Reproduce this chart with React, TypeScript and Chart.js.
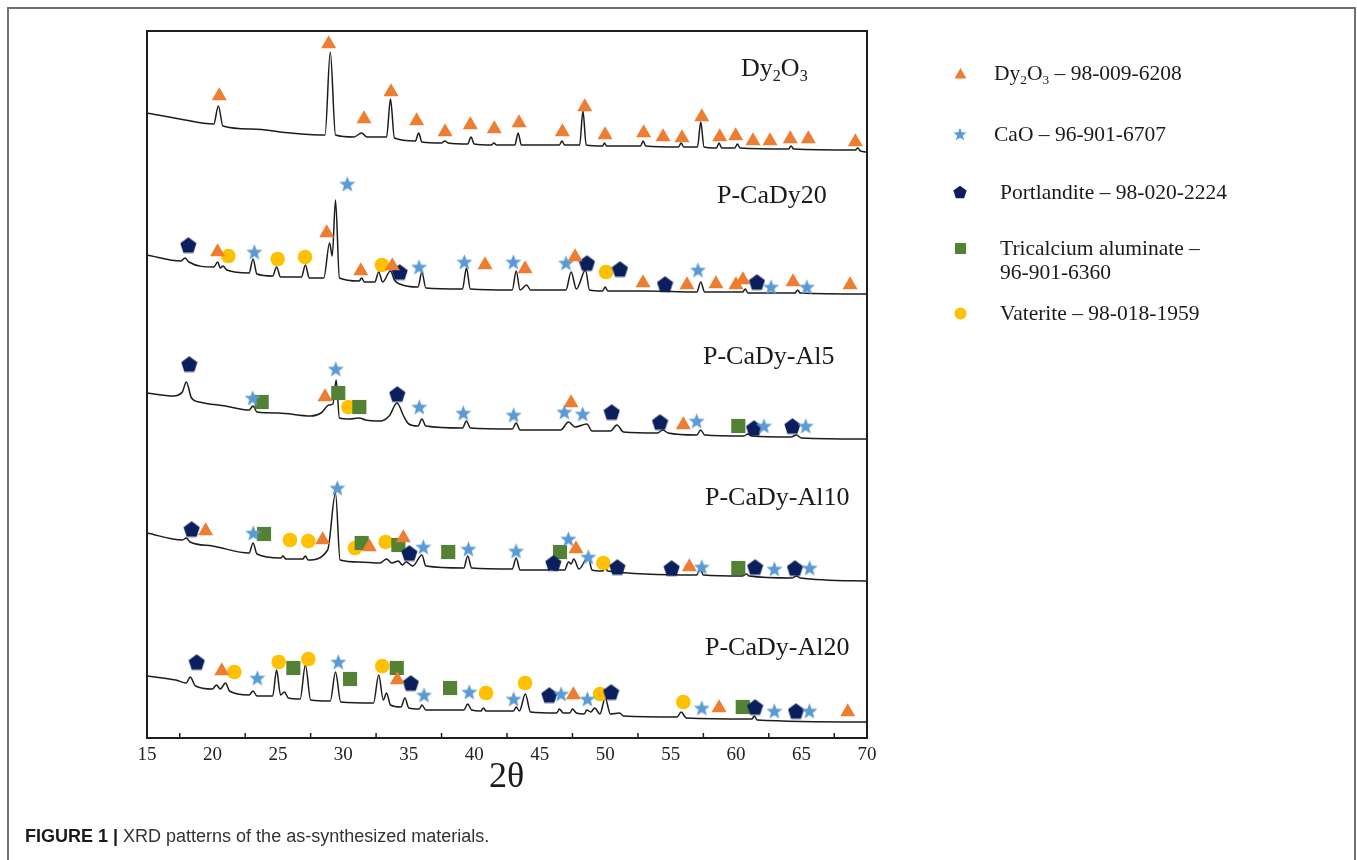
import React, { useEffect, useRef } from "react";
import { Chart, registerables } from "chart.js";

Chart.register(...registerables);

type Pt = [number, number];

// ---------- axis ----------
const X_MIN = 15;
const X_MAX = 70;
const X_TICKS = [15, 20, 25, 30, 35, 40, 45, 50, 55, 60, 65, 70];
const X_MINOR_TICKS = [17.5, 22.5, 27.5, 32.5, 37.5, 42.5, 47.5, 52.5, 57.5, 62.5, 67.5];
const Y_MAX = 707; // intensity (a.u., stacked patterns)

// ---------- XRD patterns (2θ, stacked intensity a.u.) ----------
const DY2O3: Pt[] = [
  [15, 625], [17.5, 619], [20.1, 614], [20.45, 632], [20.8, 612], [23, 609], [26, 605],
  [28.6, 603], [29.0, 686], [29.4, 603], [30.8, 601], [31.4, 605], [31.8, 601], [33.3, 601],
  [33.6, 639], [33.9, 600], [35.5, 597], [35.75, 605], [36.0, 596], [37.5, 595], [37.75, 597],
  [38.0, 595], [39.5, 594], [39.75, 601], [40.0, 594], [41.3, 593], [41.5, 595], [41.7, 593],
  [43.1, 593], [43.35, 605], [43.6, 593], [46.5, 593], [46.7, 597], [46.9, 593], [48.05, 593],
  [48.3, 627], [48.55, 593], [49.8, 592], [49.95, 595], [50.1, 592], [52.7, 592], [52.9, 597],
  [53.1, 592], [55.6, 591], [55.8, 595], [56.0, 591], [57.05, 591], [57.3, 616], [57.55, 591],
  [58.5, 590], [58.7, 595], [58.9, 590], [59.9, 590], [60.1, 594], [60.3, 590], [64.0, 589],
  [64.2, 592], [64.4, 589], [69.1, 588], [69.3, 590], [69.5, 587], [70, 586],
];

const P_CADY20: Pt[] = [
  [15, 483], [17.6, 477], [17.9, 480], [18.2, 476], [20.1, 471], [20.4, 476], [20.6, 470],
  [20.8, 472], [21.1, 468], [22.8, 465], [23.1, 479], [23.4, 464], [24.6, 462], [24.9, 471],
  [25.2, 461], [26.8, 461], [27.1, 473], [27.4, 460], [28.5, 460], [28.95, 495], [29.15, 482],
  [29.4, 538], [29.7, 460], [31.2, 457], [31.4, 460], [31.6, 456], [32.4, 456], [32.7, 466],
  [33.0, 456], [33.6, 467], [33.9, 458], [34.3, 454], [35.7, 451], [36.0, 466], [36.3, 450],
  [39.1, 449], [39.4, 470], [39.7, 449], [42.9, 448], [43.2, 467], [43.5, 448], [44.0, 453],
  [44.3, 448], [47.0, 448], [47.4, 466], [47.8, 449], [48.5, 468], [48.8, 448], [49.8, 447],
  [50.0, 451], [50.2, 447], [53, 447], [57.0, 446], [57.3, 456], [57.6, 446], [60.5, 446],
  [60.7, 449], [60.9, 445], [64.5, 445], [64.7, 448], [64.9, 445], [70, 444],
];

const P_CADY_AL5: Pt[] = [
  [15, 345], [17.0, 342], [17.7, 346], [18.0, 356], [18.4, 340], [19.0, 336], [21, 332],
  [22.8, 328], [23.1, 332], [23.4, 326], [25, 325], [27.5, 322], [28.3, 325], [28.9, 333],
  [29.2, 334], [29.45, 358], [29.7, 320], [30.5, 319], [31.2, 320], [31.7, 318], [32.8, 317],
  [33.5, 322], [34.1, 335], [34.6, 322], [35.0, 314], [35.7, 312], [36.0, 319], [36.3, 312],
  [39.1, 310], [39.4, 317], [39.7, 310], [42.9, 309], [43.2, 315], [43.5, 308], [46.6, 308],
  [47.2, 316], [47.7, 311], [48.6, 314], [49.0, 307], [50.4, 307], [50.9, 313], [51.4, 306],
  [54.0, 305], [54.4, 308], [54.8, 305], [57.0, 303], [57.3, 308], [57.6, 303], [60.6, 302],
  [60.9, 304], [61.2, 302], [64.2, 301], [64.6, 303], [65.0, 300], [70, 299],
];

const P_CADY_AL10: Pt[] = [
  [15, 205], [17.7, 198], [18.0, 200], [18.3, 196], [20, 192], [22.8, 185], [23.1, 195],
  [23.4, 184], [25.2, 180], [25.4, 182], [25.6, 179], [26.9, 179], [27.1, 182], [27.3, 178],
  [28.8, 188], [29.4, 245], [29.75, 178], [31.2, 176], [32.8, 175], [33.3, 179], [33.7, 175],
  [34.2, 177], [34.5, 173], [34.8, 176], [35.3, 172], [36.0, 183], [36.3, 172], [39.2, 170],
  [39.5, 182], [39.8, 170], [42.9, 169], [43.2, 180], [43.5, 168], [45.7, 168], [45.9, 171],
  [46.1, 168], [46.9, 168], [47.2, 176], [47.4, 174], [47.6, 179], [48.0, 169], [48.7, 181],
  [49.0, 168], [49.8, 167], [50.0, 170], [50.2, 167], [57.0, 163], [57.25, 170], [57.5, 163],
  [60.5, 162], [60.8, 164], [61.0, 162], [64.3, 160], [64.6, 162], [64.9, 160], [70, 157],
];

const P_CADY_AL20: Pt[] = [
  [15, 62], [17.2, 58], [18.0, 55], [18.3, 61], [18.7, 52], [20.0, 49], [20.3, 53], [20.6, 49],
  [21.0, 55], [21.3, 47], [22.8, 43], [23.1, 47], [23.4, 42], [24.6, 42], [24.9, 68], [25.2, 43],
  [25.5, 46], [25.8, 40], [26.7, 39], [27.1, 73], [27.5, 38], [29.0, 37], [29.4, 66], [29.8, 36],
  [32.3, 35], [32.7, 63], [33.05, 38], [33.3, 45], [33.6, 33], [34.4, 31], [34.7, 40], [35.0, 30],
  [35.8, 29], [36.0, 33], [36.3, 28], [39.2, 28], [39.5, 34], [39.8, 28], [40.5, 27], [40.7, 30],
  [40.9, 27], [43.0, 27], [43.2, 31], [43.45, 27], [43.9, 44], [44.3, 26], [46.3, 25], [46.5, 29],
  [46.8, 25], [47.3, 25], [47.5, 29], [47.8, 25], [48.4, 24], [48.6, 28], [48.9, 26], [49.2, 30],
  [49.6, 24], [50.0, 40], [50.4, 24], [51.1, 25], [51.4, 22], [55.5, 21], [55.8, 26], [56.2, 20],
  [61.2, 19], [61.4, 22], [61.6, 18], [70, 16],
];

const PATTERNS: Pt[][] = [DY2O3, P_CADY20, P_CADY_AL5, P_CADY_AL10, P_CADY_AL20];
const SAMPLE_NAMES = ["Dy2O3", "P-CaDy20", "P-CaDy-Al5", "P-CaDy-Al10", "P-CaDy-Al20"];

// ---------- phase markers (2θ, a.u.) ----------
const MARK_DY2O3: Pt[] = [
  [20.52, 642], [28.88, 694], [31.58, 619], [33.64, 646], [35.6, 617], [37.77, 606], [39.7, 613],
  [41.53, 609], [43.42, 615], [46.73, 606], [48.44, 631], [49.99, 603], [52.94, 605], [54.42, 601],
  [55.87, 600], [57.38, 621], [58.75, 601], [59.97, 602], [61.29, 597], [62.59, 597], [64.14, 599],
  [65.52, 599], [69.11, 596],
  [20.39, 486], [28.73, 505], [31.33, 467], [33.74, 472], [40.82, 473], [43.88, 469], [47.7, 481],
  [52.89, 455], [56.25, 453], [58.46, 454], [59.99, 453], [60.52, 458], [64.35, 456], [68.71, 453],
  [28.6, 341], [47.39, 335], [55.97, 313],
  [19.48, 207], [28.42, 198], [31.98, 191], [34.58, 200], [47.77, 189], [56.43, 171],
  [20.71, 67], [34.12, 58], [47.57, 43], [58.7, 30], [68.53, 26],
];

const MARK_CAO: Pt[] = [
  [23.2, 486], [30.3, 554], [35.78, 471], [39.24, 476], [42.98, 476], [47.01, 475], [57.09, 468],
  [62.67, 451], [65.41, 451],
  [23.07, 340], [29.42, 369], [35.8, 331], [39.16, 325], [43.01, 323], [46.88, 326], [48.28, 324],
  [56.99, 317], [62.13, 312], [65.32, 312],
  [23.12, 205], [29.54, 250], [36.11, 191], [39.55, 189], [43.19, 187], [47.19, 199], [48.71, 181],
  [57.38, 171], [62.92, 169], [65.62, 170],
  [23.43, 60], [29.61, 76], [36.16, 43], [39.62, 46], [43.01, 39], [46.63, 44], [48.64, 39],
  [57.38, 30], [62.92, 27], [65.6, 27],
];

const MARK_PORTLANDITE: Pt[] = [
  [18.16, 493], [34.3, 466], [48.61, 475], [51.13, 469], [54.57, 454], [61.59, 456],
  [18.23, 374], [34.12, 344], [50.5, 326], [54.19, 316], [61.37, 310], [64.3, 312],
  [18.41, 209], [35.04, 185], [46.04, 175], [50.93, 171], [55.08, 170], [61.45, 171], [64.5, 170],
  [18.8, 76], [35.15, 55], [45.73, 43], [50.45, 46], [61.45, 31], [64.58, 27],
];

const MARK_TRICALCIUM: Pt[] = [
  [23.76, 336], [29.61, 345], [31.22, 331], [60.17, 312],
  [23.94, 204], [31.4, 195], [34.2, 193], [38.01, 186], [46.55, 186], [60.17, 170],
  [26.18, 70], [30.51, 59], [34.08, 70], [38.15, 50], [60.51, 31],
];

const MARK_VATERITE: Pt[] = [
  [21.21, 482], [24.98, 479], [27.07, 481], [32.95, 473], [50.07, 466],
  [30.38, 331],
  [25.92, 198], [27.32, 197], [30.89, 190], [33.23, 196], [49.86, 175],
  [21.67, 66], [25.06, 76], [27.32, 79], [32.97, 72], [40.9, 45], [43.88, 55], [49.61, 44], [55.97, 36],
];

// ---------- colours ----------
const ORANGE = "#ED7D31";
const BLUE = "#5B9BD5";
const NAVY = "#0B1F5E";
const GREEN = "#548235";
const YELLOW = "#FFC000";

const SERIF = '"Liberation Serif", "Times New Roman", serif';

function shapePoints(kind: "star" | "pentagon", cx: number, cy: number, R: number): Pt[] {
  const pts: Pt[] = [];
  if (kind === "star") {
    for (let i = 0; i < 10; i++) {
      const a = -Math.PI / 2 + (i * Math.PI) / 5;
      const r = i % 2 === 0 ? R : R * 0.42;
      pts.push([cx + r * Math.cos(a), cy + r * Math.sin(a)]);
    }
  } else {
    for (let i = 0; i < 5; i++) {
      const a = -Math.PI / 2 + (i * 2 * Math.PI) / 5;
      pts.push([cx + R * Math.cos(a), cy + R * Math.sin(a)]);
    }
  }
  return pts;
}

function makeShapeImage(kind: "star" | "pentagon", size: number, color: string) {
  const c = document.createElement("canvas");
  c.width = size;
  c.height = size;
  const g = c.getContext("2d")!;
  const pts = shapePoints(kind, size / 2, kind === "pentagon" ? size / 2 + size * 0.05 : size / 2 + size * 0.04, size / 2);
  g.fillStyle = color;
  g.beginPath();
  pts.forEach(([x, y], i) => (i ? g.lineTo(x, y) : g.moveTo(x, y)));
  g.closePath();
  g.fill();
  return c;
}

const toXY = (arr: Pt[]) => arr.map(([x, y]) => ({ x, y }));

const framePlugin = {
  id: "frameTicks",
  afterDraw(chart: any) {
    const { ctx, chartArea, scales } = chart;
    const { left, top, right, bottom } = chartArea;
    ctx.save();
    ctx.strokeStyle = "#1e1e1e";
    ctx.lineWidth = 2;
    ctx.strokeRect(left, top, right - left, bottom - top);
    ctx.lineWidth = 1.5;
    X_MINOR_TICKS.forEach((v) => {
      const px = scales.x.getPixelForValue(v);
      ctx.beginPath();
      ctx.moveTo(px, bottom);
      ctx.lineTo(px, bottom - 5);
      ctx.stroke();
    });
    ctx.restore();
  },
};

function SvgMark({ kind, color, size }: { kind: string; color: string; size: number }) {
  const s = size;
  let el: any = null;
  if (kind === "triangle") {
    el = <polygon points={`${s / 2},1 ${s - 0.5},${s - 1.5} 0.5,${s - 1.5}`} fill={color} />;
  } else if (kind === "square") {
    el = <rect x={1} y={1} width={s - 2} height={s - 2} fill={color} />;
  } else if (kind === "circle") {
    el = <circle cx={s / 2} cy={s / 2} r={s / 2 - 0.5} fill={color} />;
  } else {
    const pts = shapePoints(kind as any, s / 2, s / 2 + s * 0.05, s / 2);
    el = <polygon points={pts.map((p) => p.join(",")).join(" ")} fill={color} />;
  }
  return (
    <svg width={s} height={s} style={{ display: "block" }}>
      {el}
    </svg>
  );
}

const labelStyle = (left: number, top: number): React.CSSProperties => ({
  position: "absolute",
  left,
  top,
  fontFamily: SERIF,
  fontSize: 26,
  lineHeight: "26px",
  color: "#1a1a1a",
  whiteSpace: "nowrap",
});

const subStyle: React.CSSProperties = { fontSize: "0.62em", position: "relative", top: "0.3em" };

export default function App() {
  const ref = useRef<HTMLCanvasElement>(null);

  useEffect(() => {
    const star = makeShapeImage("star", 17, BLUE);
    const pent = makeShapeImage("pentagon", 17, NAVY);
    const lineSets = PATTERNS.map((p, i) => ({
      type: "line" as const,
      label: SAMPLE_NAMES[i],
      data: toXY(p),
      borderColor: "#1c1c1c",
      borderWidth: 1.5,
      pointRadius: 0,
      cubicInterpolationMode: "monotone" as const,
      fill: false,
      order: 2,
    }));
    const markSet = (label: string, data: Pt[], style: any, radius: number, color: string) => ({
      type: "scatter" as const,
      label,
      data: toXY(data),
      pointStyle: style,
      pointRadius: radius,
      backgroundColor: color,
      borderColor: color,
      borderWidth: 0,
      order: 1,
    });
    const chart = new Chart(ref.current!, {
      type: "line",
      data: {
        datasets: [
          ...lineSets,
          markSet("Dy2O3 – 98-009-6208", MARK_DY2O3, "triangle", 8.7, ORANGE),
          markSet("CaO – 96-901-6707", MARK_CAO, star, 8, BLUE),
          markSet("Portlandite – 98-020-2224", MARK_PORTLANDITE, pent, 8, NAVY),
          markSet("Tricalcium aluminate – 96-901-6360", MARK_TRICALCIUM, "rect", 10, GREEN),
          markSet("Vaterite – 98-018-1959", MARK_VATERITE, "circle", 7.3, YELLOW),
        ] as any,
      },
      options: {
        animation: false,
        responsive: false,
        maintainAspectRatio: false,
        layout: { padding: { left: 147, top: 31, right: 490, bottom: 82 } },
        plugins: { legend: { display: false }, tooltip: { enabled: false } },
        scales: {
          x: {
            type: "linear",
            min: X_MIN,
            max: X_MAX,
            afterBuildTicks: (s: any) => {
              s.ticks = X_TICKS.map((v) => ({ value: v }));
            },
            afterFit: (s: any) => {
              s.height = 40;
            },
            ticks: {
              autoSkip: false,
              maxRotation: 0,
              padding: 6,
              color: "#222",
              font: { family: SERIF, size: 19 },
            },
            grid: { display: false, drawTicks: false },
            border: { display: false },
          },
          y: { type: "linear", min: 0, max: Y_MAX, display: false },
        },
      } as any,
      plugins: [framePlugin],
    });
    return () => chart.destroy();
  }, []);

  const legend = [
    { kind: "triangle", color: ORANGE, size: 13, top: 73, left: 994, text: <>Dy<span style={subStyle}>2</span>O<span style={subStyle}>3</span> – 98-009-6208</> },
    { kind: "star", color: BLUE, size: 14, top: 134, left: 994, text: <>CaO – 96-901-6707</> },
    { kind: "pentagon", color: NAVY, size: 14, top: 192, left: 1000, text: <>Portlandite – 98-020-2224</> },
    { kind: "square", color: GREEN, size: 13, top: 248, left: 1000, text: <>Tricalcium aluminate –<br />96-901-6360</> },
    { kind: "circle", color: YELLOW, size: 13, top: 313, left: 1000, text: <>Vaterite – 98-018-1959</> },
  ];

  return (
    <div style={{ position: "absolute", left: 0, top: 0, width: 1357, height: 860, overflow: "hidden", background: "#fff" }}>
      <div style={{ position: "absolute", left: 7, top: 7, width: 1349, height: 900, border: "2px solid #707070", boxSizing: "border-box" }} />
      <canvas ref={ref} width={1357} height={860} style={{ position: "absolute", left: 0, top: 0 }} />

      <div style={labelStyle(741, 55)}>
        Dy<span style={subStyle}>2</span>O<span style={subStyle}>3</span>
      </div>
      <div style={labelStyle(717, 182)}>P-CaDy20</div>
      <div style={labelStyle(703, 343)}>P-CaDy-Al5</div>
      <div style={labelStyle(705, 484)}>P-CaDy-Al10</div>
      <div style={labelStyle(705, 634)}>P-CaDy-Al20</div>

      <div style={{ position: "absolute", left: 489, top: 757, fontFamily: SERIF, fontSize: 36, lineHeight: "36px", color: "#1a1a1a" }}>2θ</div>

      {legend.map((e, i) => (
        <React.Fragment key={i}>
          <div style={{ position: "absolute", left: 960 - e.size / 2, top: e.top - e.size / 2 }}>
            <SvgMark kind={e.kind} color={e.color} size={e.size} />
          </div>
          <div
            style={{
              position: "absolute",
              left: e.left,
              top: e.top - 12,
              fontFamily: SERIF,
              fontSize: 21.5,
              lineHeight: "24px",
              color: "#1a1a1a",
              whiteSpace: "nowrap",
            }}
          >
            {e.text}
          </div>
        </React.Fragment>
      ))}

      <div style={{ position: "absolute", left: 25, top: 826, fontFamily: '"Liberation Sans", Arial, sans-serif', fontSize: 18, color: "#333", whiteSpace: "nowrap" }}>
        <b style={{ color: "#1a1a1a" }}>FIGURE 1 |</b> XRD patterns of the as-synthesized materials.
      </div>
    </div>
  );
}
